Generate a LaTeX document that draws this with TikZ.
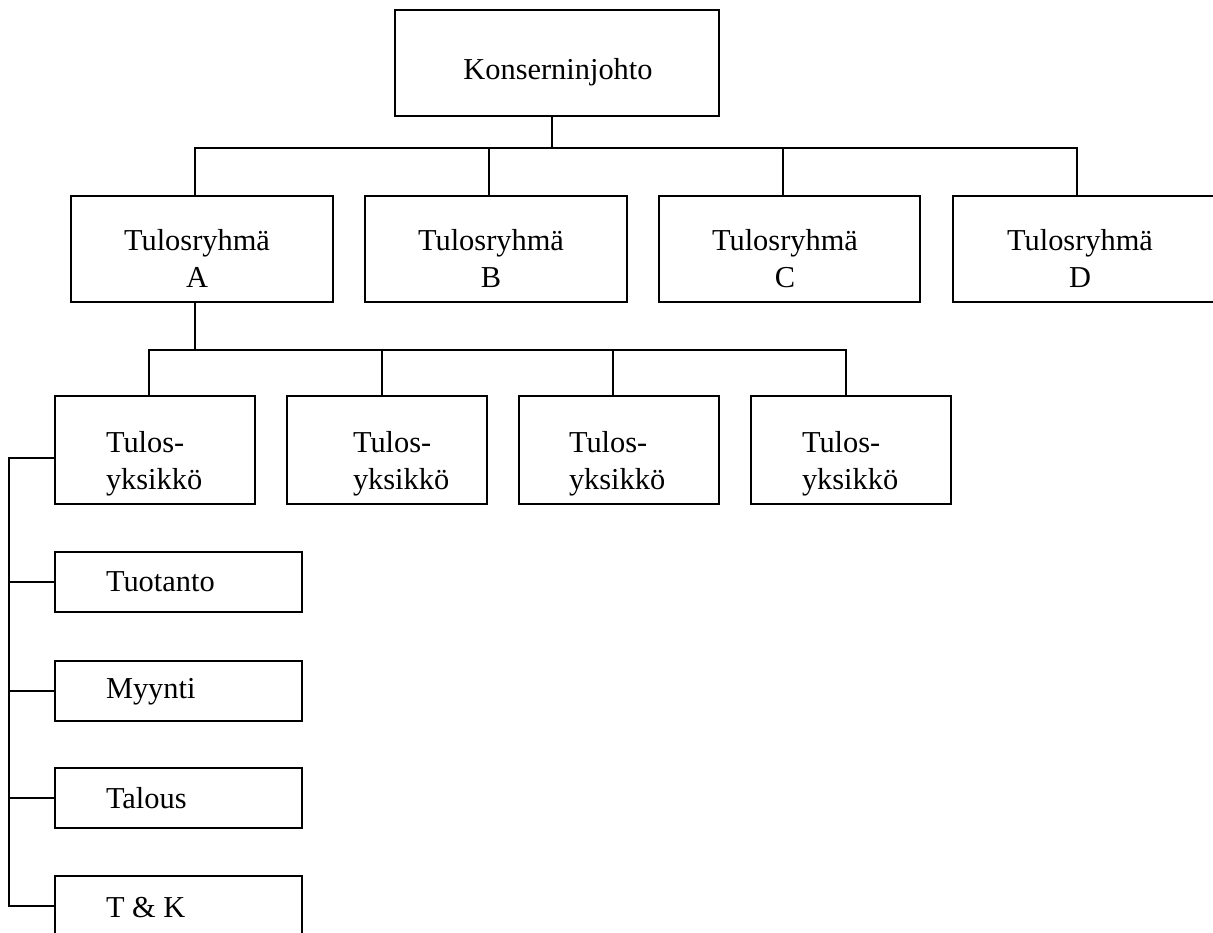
\documentclass[tikz,border=0pt]{standalone}
\usepackage{fontspec}
\setmainfont{Liberation Serif}
\usetikzlibrary{calc}
\begin{document}
\begin{tikzpicture}[x=1pt,y=-1pt,
  box/.style={draw, line width=1.7pt, rectangle, inner sep=0pt, outer sep=0pt, anchor=north west},
  topbox/.style={box, minimum width=324pt, minimum height=106pt},
  groupbox/.style={box, minimum width=262pt, minimum height=106pt},
  unitbox/.style={box, minimum width=200pt, minimum height=108pt},
  funcbox/.style={box, minimum width=247pt, minimum height=60pt},
  lbl/.style={inner sep=0pt, outer sep=0pt, font=\fontsize{30.4}{37}\selectfont},
  wire/.style={line width=1.6pt}]
\useasboundingbox (0,0) rectangle (1213,933);
\clip (0,0) rectangle (1213,933);

% boxes
\node[topbox] (k) at (395,10) {};
\node[groupbox] (ga) at (71,196) {};
\node[groupbox] (gb) at (365,196) {};
\node[groupbox, minimum width=261pt] (gc) at (659,196) {};
\node[groupbox] (gd) at (953,196) {};
\node[unitbox] (u1) at (55,396) {};
\node[unitbox] (u2) at (287,396) {};
\node[unitbox] (u3) at (519,396) {};
\node[unitbox] (u4) at (751,396) {};
\node[funcbox] (s1) at (55,552) {};
\node[funcbox] (s2) at (55,661) {};
\node[funcbox] (s3) at (55,768) {};
\node[funcbox] (s4) at (55,876) {};

% labels
\node[lbl, anchor=base] (tk) at ($(k.north west)+(163,70)$) {Konserninjohto};
\node[lbl, anchor=north, align=center] (ta) at ($(ga.north west)+(126,33)$) {Tulosryhmä\\A};
\node[lbl, anchor=north, align=center] (tb) at ($(gb.north west)+(126,33)$) {Tulosryhmä\\B};
\node[lbl, anchor=north, align=center] (tc) at ($(gc.north west)+(126,33)$) {Tulosryhmä\\C};
\node[lbl, anchor=north, align=center] (td) at ($(gd.north west)+(127,33)$) {Tulosryhmä\\D};
\node[lbl, anchor=north west, align=left] (tu1) at ($(u1.north west)+(51,35)$) {Tulos-\\yksikkö};
\node[lbl, anchor=north west, align=left] (tu2) at ($(u2.north west)+(66,35)$) {Tulos-\\yksikkö};
\node[lbl, anchor=north west, align=left] (tu3) at ($(u3.north west)+(50,35)$) {Tulos-\\yksikkö};
\node[lbl, anchor=north west, align=left] (tu4) at ($(u4.north west)+(51,35)$) {Tulos-\\yksikkö};
\node[lbl, anchor=base west] (ts1) at ($(s1.north west)+(51,39)$) {Tuotanto};
\node[lbl, anchor=base west] (ts2) at ($(s2.north west)+(51,37)$) {Myynti};
\node[lbl, anchor=base west] (ts3) at ($(s3.north west)+(51,40)$) {Talous};
\node[lbl, anchor=base west] (ts4) at ($(s4.north west)+(51,41)$) {T \& K};

% management to result groups
\coordinate (kb) at ($(k.south)+(-5,32)$);
\draw[wire] ($(k.south)+(-5,0)$) -- (kb);
\draw[wire] ($(ga.north west)+(124,0)$) |- (kb);
\draw[wire] ($(gd.north west)+(124,0)$) |- (kb);
\draw[wire] ($(gb.north west)+(124,0)$) -- ($(gb.north west)+(124,-48)$);
\draw[wire] ($(gc.north west)+(124,0)$) -- ($(gc.north west)+(124,-48)$);

% group A to result units
\coordinate (ab) at ($(ga.south west)+(124,48)$);
\draw[wire] ($(ga.south west)+(124,0)$) -- (ab);
\draw[wire] ($(u1.north west)+(94,0)$) |- (ab);
\draw[wire] ($(u4.north west)+(95,0)$) |- (ab);
\draw[wire] ($(u2.north west)+(95,0)$) -- ($(u2.north west)+(95,-46)$);
\draw[wire] ($(u3.north west)+(94,0)$) -- ($(u3.north west)+(94,-46)$);

% unit to functions
\coordinate (rail) at ($(u1.west)+(-46,8)$);
\draw[wire] ($(u1.west)+(0,8)$) -- (rail) |- (s4.west);
\draw[wire] (s1.west) -- (s1.west -| rail);
\draw[wire] (s2.west) -- (s2.west -| rail);
\draw[wire] (s3.west) -- (s3.west -| rail);
\end{tikzpicture}
\end{document}
